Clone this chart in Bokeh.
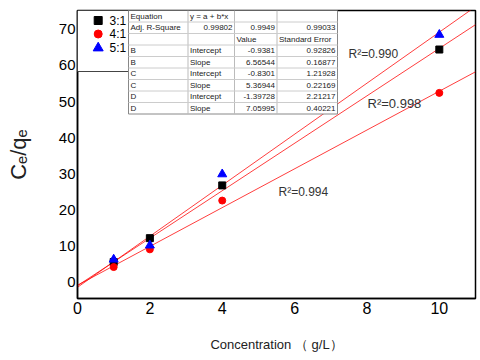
from bokeh.plotting import figure
from bokeh.models import Range1d, FixedTicker, Label, BoxAnnotation, Arrow
from bokeh.embed import file_html
from bokeh.resources import INLINE

# ---------------- data ----------------
conc = [1, 2, 4, 10]
ratio_3_1 = [5.6, 12.2, 26.8, 64.4]
ratio_4_1 = [4.2, 9.1, 22.6, 52.4]
ratio_5_1 = [6.3, 10.2, 29.9, 68.5]
series_names = ["3:1", "4:1", "5:1"]
series_colors = ["#000000", "#ff0000", "#0000ff"]
series_markers = ["square", "circle", "triangle"]

fit_names = ["B", "C", "D"]
fit_intercept = [-0.9381, -0.8301, -1.39728]
fit_intercept_err = [0.92826, 1.21928, 2.21217]
fit_slope = [6.56544, 5.36944, 7.05995]
fit_slope_err = [0.16877, 0.22169, 0.40221]
adj_r_square = ["0.99802", "0.9949", "0.99033"]
r2_texts = ["R²=0.990", "R²=0.998", "R²=0.994"]

x_ticks = [0, 2, 4, 6, 8, 10]
y_ticks = [0, 10, 20, 30, 40, 50, 60, 70]
X0, X1 = 0, 11.0
Y0, Y1 = -4.5, 75.2

# ---------------- figure ----------------
W, H = 480, 360
BL, BR, BT, BB = 77, 5, 10, 62
p = figure(width=W, height=H, output_backend="svg", toolbar_location=None,
           x_range=Range1d(X0, X1), y_range=Range1d(Y0, Y1),
           min_border_left=BL, min_border_right=BR, min_border_top=BT,
           min_border_bottom=BB)
p.background_fill_color = "white"
p.border_fill_color = "white"
p.outline_line_color = "black"
p.outline_line_width = 1.5
p.xgrid.visible = False
p.ygrid.visible = False

for ax in (p.xaxis, p.yaxis):
    ax.axis_line_color = "black"
    ax.axis_line_width = 1.5
    ax.major_tick_line_color = None
    ax.minor_tick_line_color = None
    ax.major_tick_out = 0
    ax.major_tick_in = 0
    ax.major_label_text_font = "Liberation Sans"
    ax.major_label_text_color = "black"
    ax.axis_label_text_font = "Liberation Sans"
    ax.axis_label_text_font_style = "normal"
    ax.axis_label_text_color = "#222222"
p.xaxis.ticker = FixedTicker(ticks=x_ticks)
p.yaxis.ticker = FixedTicker(ticks=y_ticks)
p.xaxis.major_label_text_font_size = "16px"
p.yaxis.major_label_text_font_size = "15px"
p.xaxis.major_label_standoff = 3
p.yaxis.major_label_standoff = 2

p.xaxis.axis_label = "Concentration （ g/L）"
p.xaxis.axis_label_text_font_size = "13px"
p.xaxis.axis_label_standoff = 20
p.yaxis.axis_label = "Cₑ/qₑ"
p.yaxis.axis_label_text_font_size = "22px"
p.yaxis.axis_label_standoff = 25

# page-pixel -> data helpers for the in-plot annotations
FL, FT = BL, BT
FW, FH = W - BL - BR, H - BT - BB


def dx(px):
    return X0 + (px - FL) / FW * (X1 - X0)


def dy(py):
    return Y1 - (py - FT) / FH * (Y1 - Y0)


# ---------------- fitted lines ----------------
for a, b in zip(fit_intercept, fit_slope):
    xs = [X0, X1]
    p.line(xs, [a + b * x for x in xs], line_color="#ff0000", line_width=0.9, line_alpha=0.85)

# ---------------- data points ----------------
series_vals = [ratio_3_1, ratio_4_1, ratio_5_1]
sizes = [7, 7, 9]
for vals, col, mk, sz in zip(series_vals, series_colors, series_markers, sizes):
    p.scatter(conc, vals, marker=mk, size=sz, fill_color=col, line_color=col)

# ---------------- R^2 labels ----------------
r2_pos = [(348, 53, "12px"), (367, 103, "13px"), (278, 191, "12px")]
for t, (px, py, fs) in zip(r2_texts, r2_pos):
    p.add_layout(Label(x=dx(px), y=dy(py), text=t, text_font="Liberation Sans",
                       text_font_size=fs, text_color="#333333",
                       text_align="left", text_baseline="middle"))

# ---------------- legend box ----------------
p.add_layout(BoxAnnotation(left=dx(77), right=dx(128.5), top=dy(10), bottom=dy(71),
                           fill_color="white", fill_alpha=1.0,
                           line_color="#444444", line_width=1, line_alpha=1.0))

# ---------------- table ----------------
col_edges = [128, 187.5, 234, 276.5, 337]
row_top, row_h = 10, 11.5
n_rows = 9
p.add_layout(BoxAnnotation(left=dx(col_edges[0]), right=dx(col_edges[-1]),
                           top=dy(row_top), bottom=dy(row_top + n_rows * row_h),
                           fill_color="white", fill_alpha=1.0,
                           line_color="#888888", line_width=1, line_alpha=1.0))
for ce in col_edges[1:-1]:
    p.add_layout(Arrow(end=None, x_start=dx(ce), x_end=dx(ce),
                       y_start=dy(row_top), y_end=dy(row_top + n_rows * row_h),
                       line_color="#bbbbbb", line_width=1))
for r in range(1, n_rows):
    yy = dy(row_top + r * row_h)
    p.add_layout(Arrow(end=None, x_start=dx(col_edges[0]), x_end=dx(col_edges[-1]),
                       y_start=yy, y_end=yy, line_color="#cccccc", line_width=1))

rows = [["Equation", "y = a + b*x", "", ""],
        ["Adj. R-Square"] + adj_r_square,
        ["", "", "Value", "Standard Error"]]
for nm, a, ae, b, be in zip(fit_names, fit_intercept, fit_intercept_err, fit_slope, fit_slope_err):
    rows.append([nm, "Intercept", str(a), str(ae)])
    rows.append([nm, "Slope", str(b), str(be)])

for ri, row in enumerate(rows):
    cy = dy(row_top + (ri + 0.5) * row_h)
    for ci, txt in enumerate(row):
        if not txt:
            continue
        right = (ri == 1 and ci > 0) or (ri >= 3 and ci >= 2)
        if right:
            xx, al = dx(col_edges[ci + 1] - 2), "right"
        else:
            xx, al = dx(col_edges[ci] + 2), "left"
        p.add_layout(Label(x=xx, y=cy, text=txt, text_font="Liberation Sans",
                           text_font_size="8px", text_color="#222222",
                           text_align=al, text_baseline="middle"))

# ---------------- legend keys ----------------
leg_y = [20, 33.5, 47.5]
leg_sizes = [8, 8, 10]
for name, col, mk, ly, sz in zip(series_names, series_colors, series_markers, leg_y, leg_sizes):
    p.scatter([dx(97.7)], [dy(ly)], marker=mk, size=sz, fill_color=col,
              line_color=col, level="overlay")
    p.add_layout(Label(x=dx(109), y=dy(ly), text=name, text_font="Liberation Sans",
                       text_font_size="12px", text_color="black",
                       text_align="left", text_baseline="middle"))

open("out.html", "w").write(file_html(p, INLINE))
